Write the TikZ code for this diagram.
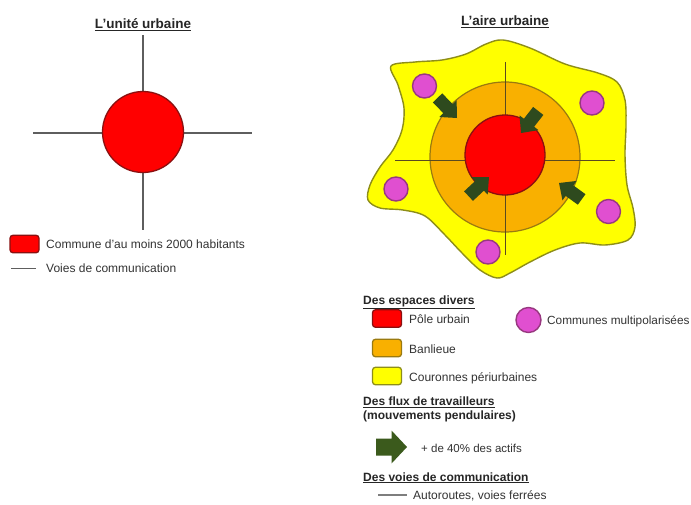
\documentclass[tikz,border=0pt]{standalone}
\usepackage{fontspec}
\setmainfont{Liberation Sans}
\definecolor{rouge}{HTML}{FF0000}
\definecolor{rougebord}{HTML}{8A1010}
\definecolor{orange2}{HTML}{F9B000}
\definecolor{orangebord}{HTML}{9A7A10}
\definecolor{jaune}{HTML}{FFFF00}
\definecolor{jaunebord}{HTML}{8E8E18}
\definecolor{rose}{HTML}{E04FD0}
\definecolor{rosebord}{HTML}{983880}
\definecolor{vert}{HTML}{2E4A1E}
\definecolor{vertleg}{HTML}{3B5A1C}
\definecolor{trait}{HTML}{5E5E5E}
\definecolor{traitb}{HTML}{5A4A20}
\definecolor{texte}{HTML}{333333}
\begin{document}
\begin{tikzpicture}[x=1pt,y=-1pt,
  titre/.style={font=\fontsize{13.5}{16}\selectfont\bfseries, text=black!85, inner sep=0pt},
  legtxt/.style={font=\fontsize{12}{14}\selectfont, text=texte, anchor=base west, inner sep=0pt},
  leghead/.style={font=\fontsize{12}{14}\selectfont\bfseries, text=black!85, anchor=base west, inner sep=0pt},
  legbox/.style={rectangle, rounded corners=3pt, minimum width=29pt, minimum height=17.5pt, line width=1.3pt, inner sep=0pt},
  route/.style={draw=trait, line width=2pt},
  routeb/.style={draw=traitb, line width=1.5pt},
  pinkc/.style={circle, fill=rose, draw=rosebord, line width=1.4pt, minimum size=24pt, inner sep=0pt},
  flux/.pic={\fill[vert] (0,0) -- (-13,-12) -- (-13,-6.5) -- (-28,-6.5) -- (-28,6.5) -- (-13,6.5) -- (-13,12) -- cycle;}
]
\fill[white] (0,0) rectangle (691,504);
\useasboundingbox (0,0) rectangle (691,504);

% ---------- L'unite urbaine ----------
\node[titre] (t1) at (143,25) {\underline{L’unité urbaine}};
\coordinate (vN) at (143,35);
\coordinate (vS) at (143,230);
\coordinate (hW) at (33,133);
\coordinate (hE) at (252,133);
\draw[route] (vN) -- (vS);
\draw[route] (hW) -- (hE);
\node[circle, fill=rouge, draw=rougebord, line width=1.3pt, minimum size=81pt, inner sep=0pt] (ville) at (143,132) {};

\node[legbox, fill=rouge, draw=rougebord] (lr1) at (24.5,244) {};
\node[legtxt] (l1) at (46,248.3) {Commune d’au moins 2000 habitants};
\coordinate (lv1) at (11,268.5);
\coordinate (lv2) at (36,268.5);
\draw[route, line width=1.6pt] (lv1) -- (lv2);
\node[legtxt] (l2) at (46,272.8) {Voies de communication};

% ---------- L'aire urbaine ----------
\node[titre] (t2) at (505,22) {\underline{L’aire urbaine}};
\draw[fill=jaune, draw=jaunebord, line width=1.4pt]
  plot[smooth cycle, tension=0.55] coordinates {
  (391,66) (415,62) (442,60) (466,54) (486,44) (503,40) (530,48) (565,64) (598,73) (617,82)
  (625,100) (626,125) (625,155) (627,185) (633,208) (635,227) (628,240) (605,245) (580,243)
  (555,250) (530,262) (510,273) (497,278) (480,270) (462,253) (445,235) (425,216) (403,210)
  (380,208) (368,200) (370,185) (380,167) (393,150) (402,130) (404,108) (398,85)};
\node[circle, fill=orange2, draw=orangebord, line width=1.2pt, minimum size=150pt, inner sep=0pt] (banlieue) at (505,157) {};
\coordinate (aN) at (505.5,62);
\coordinate (aS) at (505.5,255);
\coordinate (aW) at (395,160.5);
\coordinate (aE) at (615,160.5);
\draw[routeb] (aN) -- (aS);
\draw[routeb] (aW) -- (aE);
\node[circle, fill=rouge, draw=rougebord, line width=1.3pt, minimum size=80pt, inner sep=0pt] (pole) at (505,155) {};

\node[pinkc] (p1) at (424.5,86) {};
\node[pinkc] (p2) at (592,103) {};
\node[pinkc] (p3) at (396,189) {};
\node[pinkc] (p4) at (488,252) {};
\node[pinkc] (p5) at (608.5,211.5) {};

\pic[rotate=-46] at (457,118) {flux};
\pic[rotate=232] at (521,133) {flux};
\pic[rotate=43] at (489,177) {flux};
\pic[rotate=144] at (559,183) {flux};

% ---------- legende droite ----------
\node[leghead] (h1) at (363,304.3) {\underline{Des espaces divers}};
\node[legbox, fill=rouge, draw=rougebord] (b1) at (387,318.5) {};
\node[legtxt] (tb1) at (409,323) {Pôle urbain};
\node[pinkc, minimum size=25pt] (b4) at (528.5,320) {};
\node[legtxt, font=\fontsize{11.8}{14}\selectfont] (tb4) at (547,324) {Communes multipolarisées};
\node[legbox, fill=orange2, draw=orangebord] (b2) at (387,348) {};
\node[legtxt] (tb2) at (409,353.3) {Banlieue};
\node[legbox, fill=jaune, draw=jaunebord] (b3) at (387,376) {};
\node[legtxt] (tb3) at (409,381.5) {Couronnes périurbaines};

\node[leghead] (h2) at (363,405.5) {\underline{Des flux de travailleurs}};
\node[leghead] (h2b) at (363,419.5) {(mouvements pendulaires)};
\fill[vertleg] (407,447) -- (391.5,430.5) -- (391.5,438.5) -- (376,438.5) -- (376,455.5) -- (391.5,455.5) -- (391.5,463.5) -- cycle;
\node[legtxt, font=\fontsize{11.5}{14}\selectfont] (tf) at (421,452) {+ de 40\% des actifs};

\node[leghead] (h3) at (363,481) {\underline{Des voies de communication}};
\coordinate (lr1a) at (378,495);
\coordinate (lr1b) at (407,495);
\draw[draw=trait!80, line width=1.6pt] (lr1a) -- (lr1b);
\node[legtxt] (tr) at (413,499.5) {Autoroutes, voies ferrées};
\end{tikzpicture}
\end{document}
